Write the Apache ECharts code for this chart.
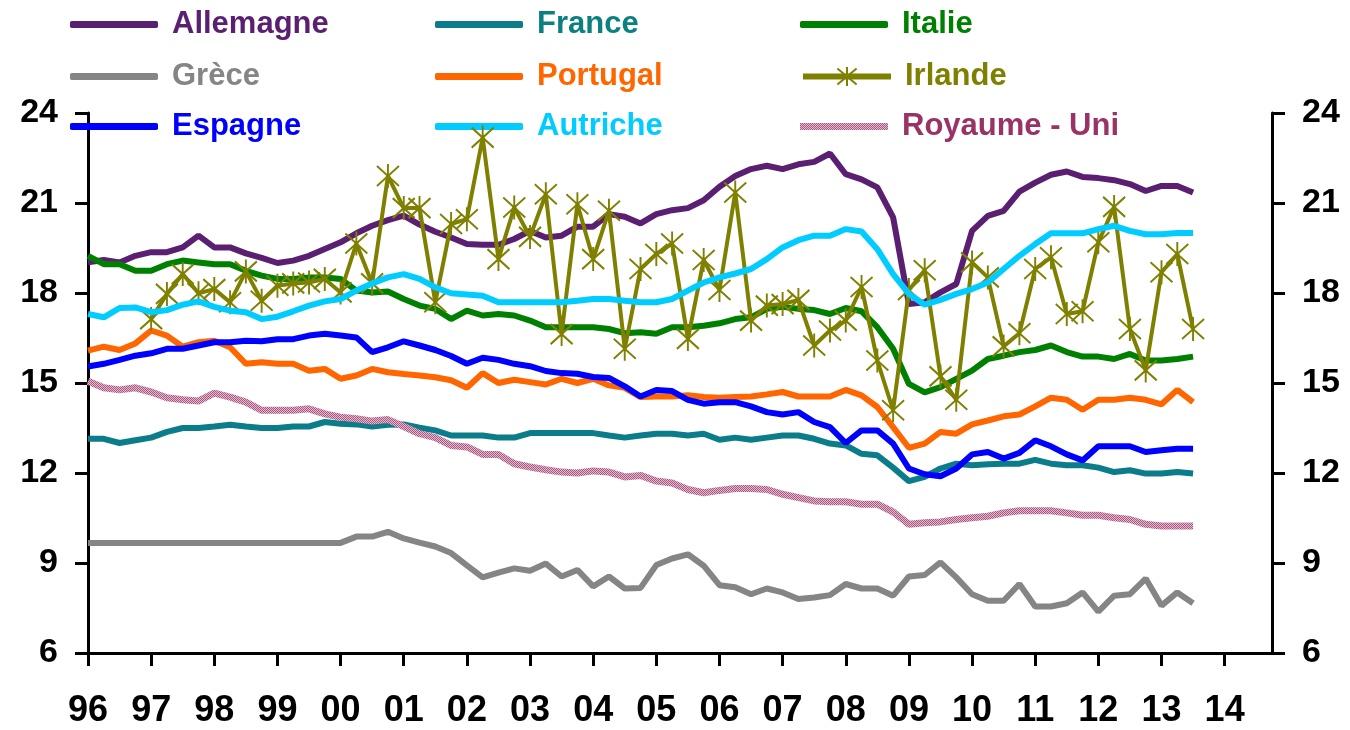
<!DOCTYPE html>
<html>
<head>
<meta charset="utf-8">
<script src="https://cdn.jsdelivr.net/npm/echarts@6/dist/echarts.min.js"></script>
<style>
  html, body { margin: 0; padding: 0; background: #fff; }
  #chart { width: 1350px; height: 730px; }
</style>
</head>
<body>
<div id="chart"></div>
<script>
const yearLabels = ['96', '97', '98', '99', '00', '01', '02', '03', '04', '05', '06', '07', '08', '09', '10', '11', '12', '13', '14'];

// quarterly, 96T1 .. 13T3
const allemagne = [19.02, 19.10, 19.02, 19.24, 19.36, 19.36, 19.52, 19.91, 19.52, 19.52, 19.32, 19.17, 19.00, 19.08, 19.24, 19.47, 19.69, 19.99, 20.24, 20.43, 20.58, 20.28, 20.04, 19.85, 19.63, 19.61, 19.61, 19.80, 20.07, 19.85, 19.91, 20.21, 20.21, 20.63, 20.54, 20.32, 20.63, 20.76, 20.83, 21.09, 21.54, 21.90, 22.13, 22.24, 22.13, 22.29, 22.37, 22.65, 21.96, 21.79, 21.52, 20.52, 17.63, 17.69, 18.02, 18.30, 20.07, 20.57, 20.74, 21.38, 21.68, 21.94, 22.05, 21.87, 21.83, 21.76, 21.63, 21.40, 21.57, 21.57, 21.35];
const france = [13.14, 13.14, 13.00, 13.09, 13.18, 13.37, 13.50, 13.50, 13.55, 13.61, 13.55, 13.50, 13.50, 13.55, 13.55, 13.70, 13.64, 13.62, 13.55, 13.61, 13.62, 13.51, 13.42, 13.25, 13.25, 13.25, 13.18, 13.18, 13.33, 13.33, 13.33, 13.33, 13.33, 13.25, 13.18, 13.25, 13.31, 13.31, 13.25, 13.31, 13.11, 13.18, 13.11, 13.18, 13.25, 13.25, 13.14, 12.98, 12.92, 12.64, 12.59, 12.18, 11.73, 11.87, 12.15, 12.31, 12.26, 12.29, 12.31, 12.31, 12.44, 12.31, 12.26, 12.26, 12.18, 12.03, 12.09, 11.98, 11.98, 12.03, 11.98];
const italie = [19.24, 18.96, 18.96, 18.74, 18.74, 18.96, 19.08, 19.02, 18.96, 18.96, 18.74, 18.58, 18.47, 18.47, 18.52, 18.52, 18.47, 18.08, 18.02, 18.05, 17.80, 17.58, 17.47, 17.13, 17.41, 17.25, 17.30, 17.25, 17.08, 16.86, 16.86, 16.86, 16.86, 16.80, 16.66, 16.69, 16.64, 16.86, 16.86, 16.91, 16.99, 17.13, 17.19, 17.47, 17.54, 17.47, 17.43, 17.30, 17.50, 17.39, 16.86, 16.14, 14.97, 14.69, 14.86, 15.14, 15.41, 15.80, 15.91, 16.03, 16.10, 16.25, 16.03, 15.88, 15.88, 15.80, 15.97, 15.75, 15.75, 15.80, 15.88];
const grece = [9.67, 9.67, 9.67, 9.67, 9.67, 9.67, 9.67, 9.67, 9.67, 9.67, 9.67, 9.67, 9.67, 9.67, 9.67, 9.67, 9.67, 9.88, 9.88, 10.04, 9.82, 9.68, 9.55, 9.33, 8.92, 8.52, 8.68, 8.82, 8.74, 8.98, 8.55, 8.77, 8.22, 8.55, 8.15, 8.17, 8.93, 9.15, 9.29, 8.91, 8.26, 8.19, 7.96, 8.15, 8.02, 7.80, 7.85, 7.93, 8.30, 8.15, 8.15, 7.91, 8.55, 8.60, 9.02, 8.52, 7.96, 7.74, 7.74, 8.30, 7.55, 7.55, 7.66, 8.02, 7.38, 7.91, 7.96, 8.48, 7.58, 8.02, 7.66];
const portugal = [16.08, 16.21, 16.10, 16.32, 16.75, 16.58, 16.21, 16.36, 16.41, 16.19, 15.64, 15.69, 15.64, 15.64, 15.41, 15.47, 15.14, 15.25, 15.47, 15.36, 15.30, 15.25, 15.19, 15.09, 14.84, 15.33, 15.00, 15.11, 15.03, 14.95, 15.14, 15.00, 15.14, 14.92, 14.84, 14.53, 14.55, 14.55, 14.59, 14.53, 14.51, 14.53, 14.55, 14.62, 14.70, 14.55, 14.55, 14.55, 14.77, 14.59, 14.20, 13.53, 12.84, 12.98, 13.37, 13.31, 13.62, 13.75, 13.89, 13.95, 14.22, 14.51, 14.44, 14.11, 14.44, 14.44, 14.51, 14.44, 14.29, 14.77, 14.36];
const irlande = [null, null, null, null, 17.13, 17.97, 18.63, 17.99, 18.13, 17.69, 18.72, 17.74, 18.24, 18.32, 18.35, 18.47, 18.02, 19.65, 18.32, 21.90, 20.83, 20.83, 17.69, 20.30, 20.46, 23.18, 19.13, 20.85, 19.87, 21.29, 16.63, 20.96, 19.13, 20.74, 16.14, 18.80, 19.30, 19.65, 16.47, 19.10, 18.10, 21.35, 17.08, 17.58, 17.63, 17.77, 16.25, 16.75, 17.08, 18.20, 15.75, 14.09, 18.10, 18.76, 15.22, 14.44, 19.02, 18.52, 16.22, 16.66, 18.80, 19.19, 17.30, 17.39, 19.69, 20.87, 16.80, 15.42, 18.69, 19.30, 16.80];
const espagne = [15.55, 15.64, 15.77, 15.91, 15.99, 16.14, 16.14, 16.25, 16.36, 16.36, 16.41, 16.39, 16.46, 16.46, 16.58, 16.64, 16.58, 16.52, 16.03, 16.19, 16.39, 16.25, 16.10, 15.90, 15.64, 15.84, 15.77, 15.64, 15.56, 15.40, 15.33, 15.31, 15.20, 15.17, 14.89, 14.55, 14.77, 14.73, 14.44, 14.31, 14.36, 14.36, 14.22, 14.03, 13.95, 14.03, 13.70, 13.53, 13.00, 13.42, 13.42, 12.98, 12.15, 11.96, 11.89, 12.15, 12.62, 12.70, 12.48, 12.67, 13.09, 12.89, 12.62, 12.42, 12.89, 12.89, 12.89, 12.70, 12.76, 12.81, 12.81];
const autriche = [17.30, 17.19, 17.50, 17.52, 17.36, 17.43, 17.61, 17.72, 17.54, 17.41, 17.36, 17.13, 17.21, 17.39, 17.58, 17.72, 17.80, 18.08, 18.32, 18.52, 18.63, 18.47, 18.19, 17.99, 17.95, 17.91, 17.69, 17.69, 17.69, 17.69, 17.69, 17.74, 17.80, 17.80, 17.74, 17.69, 17.69, 17.80, 18.08, 18.35, 18.52, 18.65, 18.80, 19.13, 19.52, 19.76, 19.91, 19.91, 20.13, 20.05, 19.46, 18.63, 17.97, 17.61, 17.77, 17.97, 18.13, 18.35, 18.80, 19.24, 19.63, 19.99, 19.99, 19.99, 20.13, 20.24, 20.07, 19.96, 19.96, 20.00, 20.00];
const royaumeUni = [15.06, 14.84, 14.77, 14.84, 14.70, 14.51, 14.44, 14.40, 14.66, 14.53, 14.36, 14.09, 14.09, 14.09, 14.14, 13.97, 13.86, 13.81, 13.73, 13.78, 13.55, 13.31, 13.18, 12.92, 12.87, 12.62, 12.62, 12.31, 12.20, 12.11, 12.03, 12.00, 12.07, 12.03, 11.87, 11.92, 11.73, 11.67, 11.45, 11.34, 11.42, 11.48, 11.48, 11.45, 11.29, 11.18, 11.07, 11.04, 11.04, 10.96, 10.96, 10.70, 10.29, 10.34, 10.37, 10.45, 10.51, 10.56, 10.67, 10.74, 10.74, 10.74, 10.67, 10.59, 10.59, 10.51, 10.45, 10.29, 10.23, 10.23, 10.23];

const seriesNames = ['Allemagne', 'France', 'Italie', 'Grèce', 'Portugal', 'Irlande', 'Espagne', 'Autriche', 'Royaume - Uni'];
const seriesValues = [allemagne, france, italie, grece, portugal, irlande, espagne, autriche, royaumeUni];

const font = '"Liberation Sans", Arial, sans-serif';
const lineColors = ['#5b1f72', '#0a7c8a', '#008000', '#858585', '#ff6600', '#808000', '#0000ff', '#00ccff', '#c78ca9'];
const textColors = ['#5b1f72', '#0a8080', '#008000', '#858585', '#ff6600', '#808000', '#0000ff', '#00ccff', '#993366'];
const legendLeft = [70, 435, 800];
const legendTop = [22, 74, 124];

// dithered pink stroke for Royaume-Uni
function ditherPattern() {
  const c = document.createElement('canvas');
  c.width = 2;
  c.height = 2;
  const ctx = c.getContext('2d');
  ctx.fillStyle = '#e3bcd0';
  ctx.fillRect(0, 0, 2, 2);
  ctx.fillStyle = '#a8577f';
  ctx.fillRect(0, 0, 1, 1);
  ctx.fillRect(1, 1, 1, 1);
  return { image: c, repeat: 'repeat' };
}

const categories = [];
yearLabels.forEach(y => {
  for (let q = 1; q <= 4; q++) categories.push(y + 'T' + q);
});

const starPath = 'path://M0,2L22,22M22,2L0,22M11,0L11,24';

const chart = echarts.init(document.getElementById('chart'), null, { renderer: 'canvas' });

const axisLineStyle = { color: '#000', width: 3 };

const yAxisCommon = {
  type: 'value',
  min: 6,
  max: 24,
  interval: 3,
  splitLine: { show: false },
  axisLine: { show: true, lineStyle: axisLineStyle },
  axisTick: { show: true, length: 13, lineStyle: axisLineStyle },
  axisLabel: { color: '#000', fontSize: 34, fontWeight: 'bold', fontFamily: font, margin: 30 },
};

const series = seriesNames.map((name, i) => {
  const s = {
    name: name,
    type: 'line',
    data: seriesValues[i],
    symbol: 'none',
    lineStyle: { color: lineColors[i], width: 6 },
    itemStyle: { color: lineColors[i] },
    emphasis: { disabled: true },
    z: 2 + i,
  };
  if (name === 'Irlande') {
    s.symbol = starPath;
    s.symbolSize = [22, 24];
    s.showSymbol = true;
    s.showAllSymbol = true;
    s.lineStyle.width = 4;
    s.itemStyle = { color: 'rgba(0,0,0,0)', borderColor: lineColors[i], borderWidth: 2 };
  }
  if (name === 'Royaume - Uni') {
    s.lineStyle.color = ditherPattern();
    s.lineStyle.width = 7;
  }
  return s;
});

const legends = seriesNames.map((name, i) => {
  const isStar = name === 'Irlande';
  const isUk = name === 'Royaume - Uni';
  const item = { name: name };
  if (!isStar) item.icon = isUk ? 'rect' : 'roundRect';
  const lg = {
    data: [item],
    left: legendLeft[i % 3],
    top: legendTop[Math.floor(i / 3)] - 13,
    padding: 0,
    itemWidth: 88,
    itemHeight: isStar ? 24 : 7,
    selectedMode: false,
    textStyle: {
      color: textColors[i],
      fontSize: 31,
      fontWeight: 'bold',
      fontFamily: font,
      padding: [0, 0, 0, 9],
    },
  };
  if (isStar) lg.lineStyle = { width: 6 };
  if (isUk) lg.itemStyle = { color: ditherPattern() };
  return lg;
});

chart.setOption({
  animation: false,
  backgroundColor: '#fff',
  textStyle: { fontFamily: font },
  legend: legends,
  grid: { left: 88, right: 78, top: 113, bottom: 77, containLabel: false },
  xAxis: {
    type: 'category',
    data: categories,
    boundaryGap: false,
    axisLine: { lineStyle: axisLineStyle },
    axisTick: { show: true, interval: 3, length: 13, lineStyle: axisLineStyle },
    axisLabel: {
      interval: 3,
      color: '#000',
      fontSize: 36,
      fontWeight: 'bold',
      fontFamily: font,
      margin: 40,
      formatter: v => v.slice(0, 2),
    },
    splitLine: { show: false },
  },
  yAxis: [
    Object.assign({ position: 'left' }, yAxisCommon),
    Object.assign({ position: 'right' }, yAxisCommon),
  ],
  series: series,
});
</script>
</body>
</html>
